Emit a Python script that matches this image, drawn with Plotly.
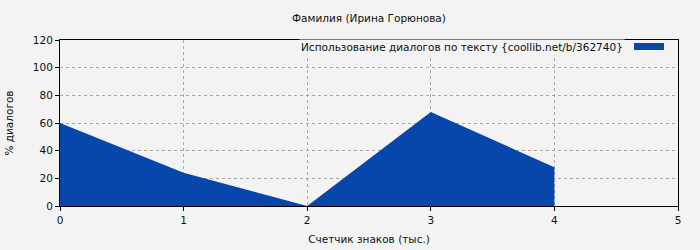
import plotly.graph_objects as go

x_vals = [0, 1, 2, 3, 4]
y_vals = [60, 24, 0, 68, 28]
series_name = "Использование диалогов по тексту {coollib.net/b/362740}"
title_text = "Фамилия (Ирина Горюнова)"
x_title = "Счетчик знаков (тыс.)"
y_title = "% диалогов"

fill_color = "#0746aa"
bg = "#f3f3f3"
font_family = "DejaVu Sans"
fs = 10.5

fig = go.Figure()
fig.add_trace(go.Scatter(
    x=x_vals, y=y_vals, mode="lines", fill="tozeroy",
    line=dict(width=0, color=fill_color), fillcolor=fill_color,
    name=series_name, showlegend=False, hoverinfo="skip"))

fig.update_layout(
    width=700, height=250,
    paper_bgcolor=bg, plot_bgcolor=bg,
    margin=dict(l=60, r=22, t=40, b=44, autoexpand=False),
    font=dict(family=font_family, size=fs, color="#111"),
    title=dict(text=title_text, x=369 / 700, xanchor="center",
               y=1 - 18 / 250, yanchor="middle", font=dict(size=fs)),
    xaxis=dict(range=[0, 5], dtick=1, tick0=0, showgrid=True,
               gridcolor="#a8a8a8", griddash="dot", gridwidth=1,
               showline=True, linecolor="#000", linewidth=1, mirror=True,
               ticks="outside", ticklen=4, tickcolor="#000",
               zeroline=False, automargin=False,
               title=dict(text=x_title, standoff=11, font=dict(size=fs))),
    yaxis=dict(range=[0, 120], dtick=20, tick0=0, showgrid=True,
               gridcolor="#a8a8a8", griddash="dot", gridwidth=1,
               showline=True, linecolor="#000", linewidth=1, mirror=True,
               ticks="outside", ticklen=4, tickcolor="#000",
               zeroline=False, automargin=False,
               title=dict(text=y_title, standoff=17, font=dict(size=fs))),
)

# Legend drawn manually (text left of swatch)
fig.add_shape(type="rect", xref="paper", yref="paper",
              x0=0.87, x1=1.0, y0=0.905, y1=1.0,
              fillcolor=bg, line=dict(width=0), layer="below")
fig.add_annotation(text=series_name, xref="paper", yref="paper",
                   x=(625 - 60) / 618, y=(206 - 47) / 166,
                   xanchor="right", yanchor="middle", showarrow=False,
                   font=dict(size=fs), bgcolor=bg)
fig.add_shape(type="rect", xref="paper", yref="paper",
              x0=(634 - 60) / 618, x1=(664 - 60) / 618,
              y0=(206 - 50) / 166, y1=(206 - 43) / 166,
              fillcolor=fill_color, line=dict(width=0))

fig.write_html("out.html")
